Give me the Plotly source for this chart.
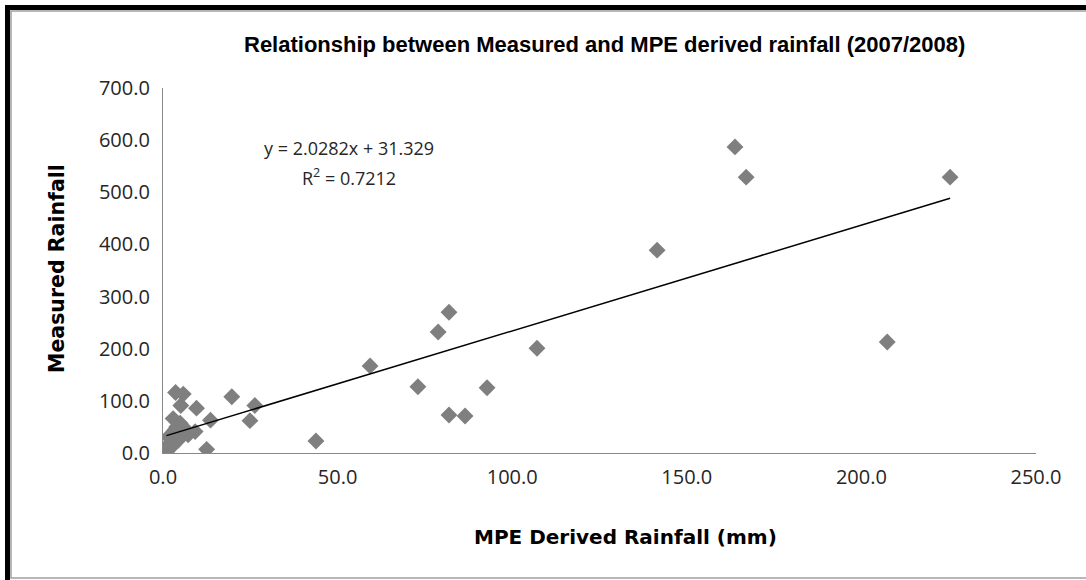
import plotly.graph_objects as go

# ---- data ----
mpe_mm = [225.4, 167.0, 163.8, 141.5, 207.4, 107.1, 81.9, 78.8, 59.3, 73.0,
          92.8, 81.9, 86.5, 43.8, 26.3, 24.9, 19.7, 13.6, 12.5, 9.6,
          9.2, 7.2, 5.8, 3.6, 5.1, 2.9, 4.9, 3.9, 5.8, 3.4,
          4.4, 2.9, 1.5, 1.1, 2.0, 1.5, 3.0, 1.0, 2.2]
measured = [529, 529, 587, 389, 213, 201, 270, 232, 167, 127,
            125, 73, 71, 23, 91, 62, 108, 63, 7, 86,
            41, 35, 113, 116, 91, 66, 57, 50, 50, 44,
            25, 15, 12, 3, 30, 31, 37, 6, 20]
SLOPE = 2.0282
INTERCEPT = 31.329
R2 = 0.7212
x_ticks = [0, 50, 100, 150, 200, 250]
y_ticks = [0, 100, 200, 300, 400, 500, 600, 700]

TITLE = "Relationship between Measured and MPE derived rainfall (2007/2008)"
X_TITLE = "MPE Derived Rainfall (mm)"
Y_TITLE = "Measured Rainfall"

# ---- layout geometry (pixels) ----
W, H = 1086, 580
L, R, T, B = 163, 1036, 88, 453


def px(xp):
    return (xp - L) / (R - L)


def py(yp):
    return (B - yp) / (B - T)


fig = go.Figure()

fig.add_trace(go.Scatter(
    x=mpe_mm, y=measured, mode="markers",
    marker=dict(symbol="diamond", size=13, color="#7f7f7f",
                line=dict(width=0)),
    showlegend=False, hoverinfo="x+y"))

x0, x1 = min(mpe_mm), max(mpe_mm)
fig.add_trace(go.Scatter(
    x=[x0, x1], y=[SLOPE * x0 + INTERCEPT, SLOPE * x1 + INTERCEPT],
    mode="lines", line=dict(color="black", width=1.5),
    showlegend=False, hoverinfo="skip"))

tickfont = dict(family="Open Sans, Liberation Sans, sans-serif", size=20, color="#262626")

fig.update_xaxes(range=[0, 250], tickvals=x_ticks,
                 ticktext=[f"{v:.1f}" for v in x_ticks],
                 showgrid=False, zeroline=False, showline=True,
                 linecolor="#888888", linewidth=1.2, ticks="",
                 tickfont=tickfont, ticklabelstandoff=6)
fig.update_yaxes(range=[0, 700], tickvals=y_ticks,
                 ticktext=[f"{v:.1f}" for v in y_ticks],
                 showgrid=False, zeroline=False, showline=True,
                 linecolor="#888888", linewidth=1.2, ticks="",
                 tickfont=tickfont, ticklabelstandoff=8)

annots = [
    dict(text=f"<b>{TITLE}</b>", x=px(604), y=py(45),
         font=dict(family="Liberation Sans, Arial, sans-serif", size=22, color="black")),
    dict(text=f"<b>{X_TITLE}</b>", x=px(625), y=py(537),
         font=dict(family="DejaVu Sans, Verdana, sans-serif", size=20, color="black")),
    dict(text=f"<b>{Y_TITLE}</b>", x=px(57), y=py(269), textangle=-90,
         font=dict(family="DejaVu Sans, Verdana, sans-serif", size=20.5, color="black")),
    dict(text=f"y = {SLOPE}x + {INTERCEPT}", x=px(349), y=py(148),
         font=dict(family="Open Sans, sans-serif", size=18, color="#262626")),
    dict(text=f"R<sup>2</sup> = {R2}", x=px(349), y=py(177),
         font=dict(family="Open Sans, sans-serif", size=18, color="#262626")),
]
for a in annots:
    a.update(xref="paper", yref="paper", showarrow=False,
             xanchor="center", yanchor="middle")

shapes = [
    # black frame (top and left)
    dict(type="rect", x0=px(5), x1=px(W + 5), y0=py(5), y1=py(10),
         fillcolor="black", line=dict(width=0)),
    dict(type="rect", x0=px(5), x1=px(10), y0=py(5), y1=py(H + 5),
         fillcolor="black", line=dict(width=0)),
    # thin grey inner border
    dict(type="rect", x0=px(11), x1=px(W + 5), y0=py(11), y1=py(578),
         fillcolor="rgba(0,0,0,0)", line=dict(color="#a0a0a0", width=1.5)),
]
for s in shapes:
    s.update(xref="paper", yref="paper", layer="above")

fig.update_layout(
    width=W, height=H,
    margin=dict(l=L, r=W - R, t=T, b=H - B, autoexpand=False),
    paper_bgcolor="white", plot_bgcolor="white",
    annotations=annots, shapes=shapes, showlegend=False)

fig.write_html("out.html",
               config={"displayModeBar": False},
               post_script="document.body.style.margin='0';"
                           "document.body.style.overflow='hidden';")
